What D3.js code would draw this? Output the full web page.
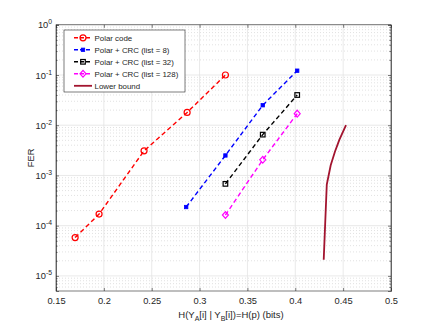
<!DOCTYPE html>
<html><head><meta charset="utf-8">
<script src="https://cdn.jsdelivr.net/npm/d3@7"></script>
<style>body{margin:0;background:#fff}svg{display:block}text{font-family:"Liberation Sans",Arial,sans-serif;fill:#262626}</style>
</head><body>
<script>
const polarX = [0.170, 0.195, 0.242, 0.287, 0.327];
const polarY = [5.8e-5, 1.7e-4, 3.1e-3, 1.8e-2, 1.0e-1];
const crc8X = [0.286, 0.327, 0.366, 0.402];
const crc8Y = [2.35e-4, 2.5e-3, 2.5e-2, 1.22e-1];
const crc32X = [0.327, 0.366, 0.402];
const crc32Y = [6.8e-4, 6.5e-3, 4.0e-2];
const crc128X = [0.327, 0.366, 0.402];
const crc128Y = [1.63e-4, 2.05e-3, 1.7e-2];
const boundX = [0.4297, 0.4329, 0.437, 0.4415, 0.446, 0.453];
const boundY = [2.1e-5, 6.6e-4, 1.6e-3, 3.0e-3, 5.1e-3, 1.0e-2];
const xTicks = [0.15, 0.2, 0.25, 0.3, 0.35, 0.4, 0.45, 0.5];
const yTickExps = [0, -1, -2, -3, -4, -5];
const legendLabels = ["Polar code", "Polar + CRC (list = 8)", "Polar + CRC (list = 32)", "Polar + CRC (list = 128)", "Lower bound"];

const W = 432, H = 327;
const L = 56, R = 391, T = 24.8, B = 291;
const svg = d3.select("body").append("svg").attr("width", W).attr("height", H);
const x = d3.scaleLinear().domain([0.15, 0.5]).range([L, R]);
const y = d3.scaleLog().domain([5e-6, 1]).range([B, T]);

const g = svg.append("g");
const minor = [];
for (let e = -6; e < 0; e++) for (let k = 2; k <= 9; k++) { const v = k * Math.pow(10, e); if (v >= 5e-6 && v <= 1) minor.push(v); }
g.selectAll(".mg").data(minor).enter().append("line")
  .attr("x1", L).attr("x2", R).attr("y1", d => y(d)).attr("y2", d => y(d))
  .attr("stroke", "#d4d4d4").attr("stroke-width", 0.7).attr("stroke-dasharray", "1,2");
g.selectAll(".gx").data(xTicks.slice(1, -1)).enter().append("line")
  .attr("x1", d => x(d)).attr("x2", d => x(d)).attr("y1", T).attr("y2", B)
  .attr("stroke", "#e3e3e3").attr("stroke-width", 0.8);
g.selectAll(".gy").data(yTickExps).enter().append("line")
  .attr("x1", L).attr("x2", R).attr("y1", d => y(Math.pow(10, d))).attr("y2", d => y(Math.pow(10, d)))
  .attr("stroke", "#e3e3e3").attr("stroke-width", 0.8);

const axC = "#262626";
const xb = svg.append("g").attr("transform", `translate(0,${B})`)
  .call(d3.axisBottom(x).tickValues(xTicks).tickSize(-3).tickPadding(6).tickFormat(d3.format("")));
const xt = svg.append("g").attr("transform", `translate(0,${T})`)
  .call(d3.axisTop(x).tickValues(xTicks).tickSize(-3).tickFormat(""));
const yMajor = yTickExps.map(e => Math.pow(10, e));
const yl = svg.append("g").attr("transform", `translate(${L},0)`)
  .call(d3.axisLeft(y).tickValues(yMajor).tickSize(-3).tickFormat(""));
const yr = svg.append("g").attr("transform", `translate(${R},0)`)
  .call(d3.axisRight(y).tickValues(yMajor).tickSize(-3).tickFormat(""));
const ylm = svg.append("g").attr("transform", `translate(${L},0)`)
  .call(d3.axisLeft(y).tickValues(minor).tickSize(-1.6).tickFormat(""));
const yrm = svg.append("g").attr("transform", `translate(${R},0)`)
  .call(d3.axisRight(y).tickValues(minor).tickSize(-1.6).tickFormat(""));
[xb, xt, yl, yr, ylm, yrm].forEach(a => {
  a.selectAll("path").attr("stroke", axC).attr("stroke-width", 0.6);
  a.selectAll("line").attr("stroke", axC).attr("stroke-width", 0.6);
  a.selectAll("text").attr("font-size", 9.3).attr("fill", axC).style("font-family", "Liberation Sans, Arial, sans-serif");
});
xb.select(".domain").remove(); xt.select(".domain").remove();
ylm.select(".domain").remove(); yrm.select(".domain").remove();
svg.append("rect").attr("x", L).attr("y", T).attr("width", R - L).attr("height", B - T)
  .attr("fill", "none").attr("stroke", axC).attr("stroke-width", 0.6);

yTickExps.forEach(e => {
  const t = svg.append("text").attr("x", L - 4).attr("y", y(Math.pow(10, e)) + 3.5)
    .attr("text-anchor", "end").attr("font-size", 9.3);
  t.append("tspan").text("10");
  t.append("tspan").attr("dy", -4).attr("font-size", 6.8).text(e);
});

svg.append("text").attr("transform", `translate(34,${(T + B) / 2}) rotate(-90)`)
  .attr("text-anchor", "middle").attr("font-size", 9.3).text("FER");
const xl = svg.append("text").attr("x", 231).attr("y", 318).attr("text-anchor", "middle").attr("font-size", 9.5);
xl.append("tspan").text("H(Y");
xl.append("tspan").attr("dy", 3).attr("font-size", 7).text("A");
xl.append("tspan").attr("dy", -3).text("[i] | Y");
xl.append("tspan").attr("dy", 3).attr("font-size", 7).text("B");
xl.append("tspan").attr("dy", -3).text("[i])=H(p) (bits)");

const series = [
  { xs: polarX, ys: polarY, color: "#ff0000", marker: "circle", dash: "4.5,3" },
  { xs: crc8X, ys: crc8Y, color: "#0000ff", marker: "fsquare", dash: "4.5,3" },
  { xs: crc32X, ys: crc32Y, color: "#000000", marker: "square", dash: "4.5,3" },
  { xs: crc128X, ys: crc128Y, color: "#ff00ff", marker: "diamond", dash: "4.5,3" },
  { xs: boundX, ys: boundY, color: "#a2142f", marker: null, dash: null }
];
const line = d3.line().x(d => x(d[0])).y(d => y(d[1]));
function drawMarker(sel, type, cx, cy, color) {
  if (type === "circle") sel.append("circle").attr("cx", cx).attr("cy", cy).attr("r", 3).attr("fill", "none").attr("stroke", color).attr("stroke-width", 1.2);
  else if (type === "fsquare") sel.append("rect").attr("x", cx - 1.7).attr("y", cy - 1.7).attr("width", 3.4).attr("height", 3.4).attr("fill", color).attr("stroke", color).attr("stroke-width", 0.8);
  else if (type === "square") sel.append("rect").attr("x", cx - 2.3).attr("y", cy - 2.3).attr("width", 4.6).attr("height", 4.6).attr("fill", "none").attr("stroke", color).attr("stroke-width", 1.2);
  else if (type === "diamond") sel.append("path").attr("d", `M${cx},${cy - 3.4}L${cx + 3},${cy}L${cx},${cy + 3.4}L${cx - 3},${cy}Z`).attr("fill", "none").attr("stroke", color).attr("stroke-width", 1.2);
}
const sg = svg.append("g");
series.forEach(s => {
  const pts = s.xs.map((v, i) => [v, s.ys[i]]);
  sg.append("path").attr("d", line(pts)).attr("fill", "none").attr("stroke", s.color)
    .attr("stroke-width", s.dash ? 1.4 : 1.8).attr("stroke-dasharray", s.dash);
  if (s.marker) pts.forEach(p => drawMarker(sg, s.marker, x(p[0]), y(p[1]), s.color));
});

const lg = svg.append("g");
lg.append("rect").attr("x", 64).attr("y", 30).attr("width", 121).attr("height", 62).attr("fill", "#fff").attr("stroke", axC).attr("stroke-width", 0.6);
legendLabels.forEach((lab, i) => {
  const s = series[i];
  const cy = 37.8 + i * 12;
  lg.append("line").attr("x1", 74).attr("x2", 92).attr("y1", cy).attr("y2", cy).attr("stroke", s.color)
    .attr("stroke-width", s.dash ? 1.4 : 1.8).attr("stroke-dasharray", s.dash ? "4,2" : null);
  if (s.marker) drawMarker(lg, s.marker, 83, cy, s.color);
  lg.append("text").attr("x", 94.5).attr("y", cy + 2.8).attr("font-size", 7.9).text(lab);
});
</script>
</body></html>
